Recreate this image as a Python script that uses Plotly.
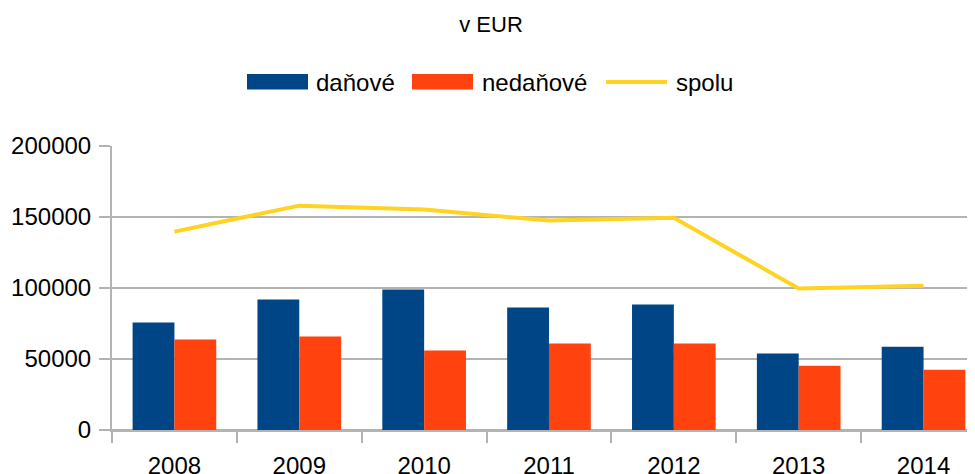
import plotly.graph_objects as go

years = ["2008", "2009", "2010", "2011", "2012", "2013", "2014"]
danove = [75700, 91900, 98900, 86300, 88400, 53800, 58700]
nedanove = [63700, 65800, 55900, 60900, 60900, 45300, 42500]
spolu = [139700, 158000, 155200, 147500, 149400, 99700, 101500]

C_BLUE = "#004586"
C_ORANGE = "#ff420e"
C_YELLOW = "#ffd320"
C_GRID = "#b3b3b3"
FONT = "Liberation Sans, Arial, sans-serif"

# the page body has an 8px margin, so the figure is offset inside the window
OFF = 8
W, H = 975 - OFF, 474 - OFF
L, R, T, B = 112 - OFF, 0, 146 - OFF, 474 - 430


def px_x(p):
    return (p - OFF - L) / (W - L - R)


def px_y(p):
    return (H - B - (p - OFF)) / (H - T - B)


fig = go.Figure()
fig.add_trace(go.Bar(x=years, y=danove, name="daňové", marker=dict(color=C_BLUE, line=dict(width=0)),
                     showlegend=False))
fig.add_trace(go.Bar(x=years, y=nedanove, name="nedaňové", marker=dict(color=C_ORANGE, line=dict(width=0)),
                     showlegend=False))
fig.add_trace(go.Scatter(x=years, y=spolu, name="spolu", mode="lines",
                         line=dict(color=C_YELLOW, width=4), showlegend=False))

# custom legend (swatches + labels)
shapes = [
    dict(type="rect", xref="paper", yref="paper", x0=px_x(247), x1=px_x(308), y0=px_y(89.5), y1=px_y(74),
         fillcolor=C_BLUE, line=dict(width=0)),
    dict(type="rect", xref="paper", yref="paper", x0=px_x(412), x1=px_x(473), y0=px_y(89.5), y1=px_y(74),
         fillcolor=C_ORANGE, line=dict(width=0)),
    dict(type="line", xref="paper", yref="paper", x0=px_x(606), x1=px_x(667), y0=px_y(82), y1=px_y(82),
         line=dict(color=C_YELLOW, width=4)),
]
annotations = []
for label, xpix in [("daňové", 314), ("nedaňové", 480), ("spolu", 674)]:
    annotations.append(dict(text=label, xref="paper", yref="paper", x=px_x(xpix), y=px_y(82),
                            xanchor="left", yanchor="middle", showarrow=False,
                            font=dict(family=FONT, size=24, color="#000000")))

fig.update_layout(
    width=W, height=H,
    margin=dict(l=L, r=R, t=T, b=B, pad=0, autoexpand=False),
    paper_bgcolor="white", plot_bgcolor="white",
    barmode="group", bargap=0.33, bargroupgap=0,
    title=dict(text="v EUR", x=(491 - OFF) / W, xanchor="center", y=1 - (24 - OFF) / H, yanchor="middle",
               yref="container", font=dict(family=FONT, size=22, color="#000000")),
    shapes=shapes,
    annotations=annotations,
    font=dict(family=FONT, size=24, color="#000000"),
)

fig.update_xaxes(
    type="category",
    automargin=False,
    range=[-0.5, 6.412],
    showgrid=False,
    showline=True, linecolor=C_GRID, linewidth=2,
    ticks="outside", tickson="boundaries", ticklen=11, tickwidth=2, tickcolor=C_GRID,
    tickfont=dict(family=FONT, size=24, color="#000000"),
    ticklabelstandoff=13,
)
fig.update_yaxes(
    automargin=False,
    range=[0, 200000],
    tickvals=[0, 50000, 100000, 150000, 200000],
    ticktext=["0", "50000", "100000", "150000", "200000"],
    showgrid=True, gridcolor=C_GRID, gridwidth=2,
    zeroline=True, zerolinecolor=C_GRID, zerolinewidth=2,
    showline=True, linecolor=C_GRID, linewidth=2,
    ticks="outside", ticklen=11, tickwidth=2, tickcolor=C_GRID,
    tickfont=dict(family=FONT, size=24, color="#000000"),
    ticklabelstandoff=3,
)

fig.write_html("out.html")
